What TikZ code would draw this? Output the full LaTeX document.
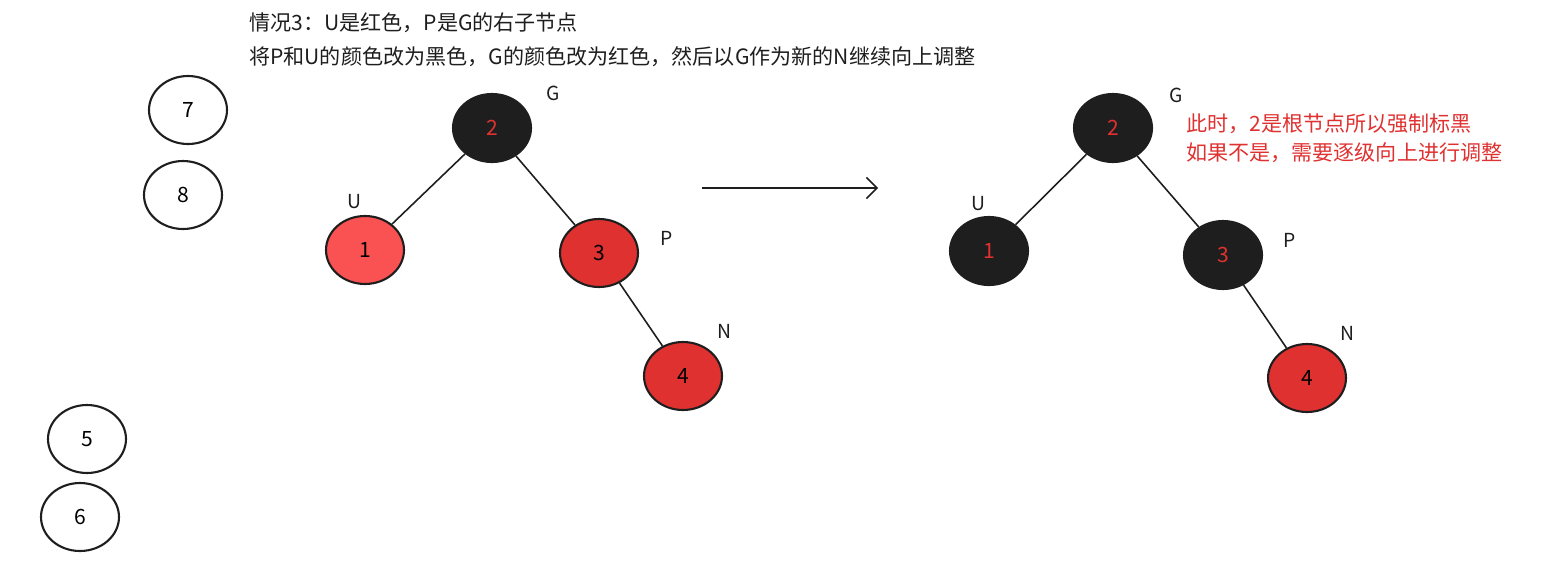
\documentclass[tikz,border=0pt]{standalone}
\usepackage{fontspec}
\setmainfont{Noto Sans CJK SC}
\usetikzlibrary{shapes.geometric,arrows.meta}
\definecolor{nodered}{HTML}{E03131}
\definecolor{lightred}{HTML}{FA5252}
\definecolor{nodeblack}{HTML}{1E1E1E}
\tikzset{
  rbnode/.style={ellipse, draw=nodeblack, line width=1.2pt, minimum width=1.56cm, minimum height=1.36cm, font=\fontsize{12}{14}\selectfont},
  tag/.style={font=\fontsize{11}{13}\selectfont\itshape, text=nodeblack},
  edge/.style={draw=nodeblack, line width=0.9pt}
}
\begin{document}
\begin{tikzpicture}[x=0.02cm,y=-0.02cm]
    \useasboundingbox (0,0) rectangle (1564,562);
    % Title
    \node[anchor=west, font=\fontsize{12}{14}\selectfont, text=nodeblack] (title1) at (243,23) {情况3：U是红色，P是G的右子节点};
    \node[anchor=west, font=\fontsize{12}{14}\selectfont, text=nodeblack] (title2) at (243,57) {将P和U的颜色改为黑色，G的颜色改为红色，然后以G作为新的N继续向上调整};
    % Loose nodes
    \node[rbnode] (n7) at (188,110) {7};
    \node[rbnode] (n8) at (183,195) {8};
    \node[rbnode] (n5) at (87,439)  {5};
    \node[rbnode] (n6) at (80,517)  {6};
    % Left tree
    \node[rbnode, fill=nodeblack, text=nodered] (lg) at (492,128) {2};
    \node[rbnode, fill=lightred]  (lu) at (365,250) {1};
    \node[rbnode, fill=nodered]   (lp) at (599,253) {3};
    \node[rbnode, fill=nodered]   (ln) at (683,376) {4};
    \draw[edge] (lg) -- (lu);
    \draw[edge] (lg) -- (lp);
    \draw[edge] (lp) -- (ln);
    \node[tag] (lgt) at (553,93)  {G};
    \node[tag] (lut) at (354,202) {U};
    \node[tag] (lpt) at (667,238) {P};
    \node[tag] (lnt) at (724,331) {N};
    % Arrow
    \coordinate (from) at (702,188);
    \coordinate (to) at (878,188);
    \draw[edge, -{Straight Barb[length=6pt,width=12pt]}] (from) -- (to);
    % Right tree
    \node[rbnode, fill=nodeblack, text=nodered] (rg) at (1113,128) {2};
    \node[rbnode, fill=nodeblack, text=nodered] (ru) at (989,251)  {1};
    \node[rbnode, fill=nodeblack, text=nodered] (rp) at (1223,255) {3};
    \node[rbnode, fill=nodered]   (rn) at (1307,378) {4};
    \draw[edge] (rg) -- (ru);
    \draw[edge] (rg) -- (rp);
    \draw[edge] (rp) -- (rn);
    \node[tag] (rgt) at (1176,95)  {G};
    \node[tag] (rut) at (978,204)  {U};
    \node[tag] (rpt) at (1290,240) {P};
    \node[tag] (rnt) at (1347,333) {N};
    % Note
    \node[anchor=north west, align=left, text=nodered, font=\fontsize{12}{16}\selectfont] (note) at (1180,108)
      {此时，2是根节点所以强制标黑\\如果不是，需要逐级向上进行调整};
\end{tikzpicture}
\end{document}
